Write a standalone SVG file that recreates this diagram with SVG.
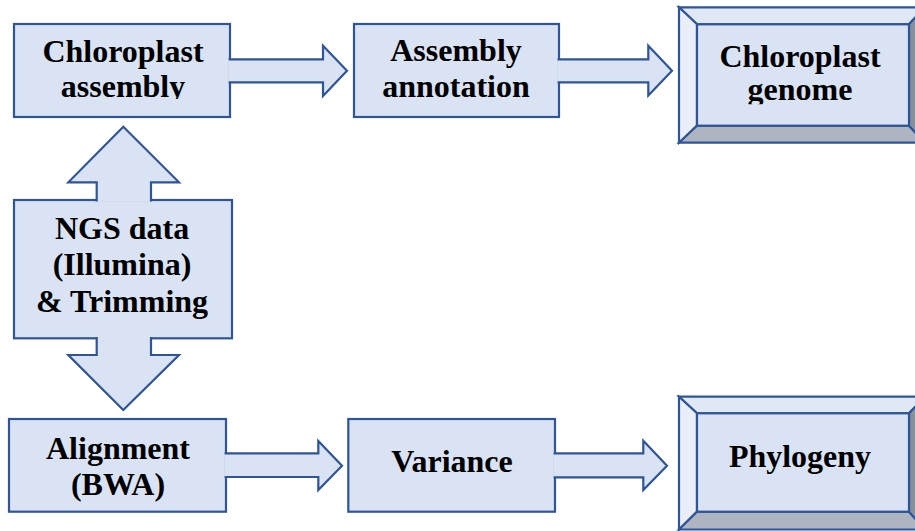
<svg xmlns="http://www.w3.org/2000/svg" width="915" height="531" viewBox="0 0 915 531">
  <style>
    .box { fill: #dae3f3; stroke: #2f5597; stroke-width: 2.2; stroke-linejoin: miter; }
    .arrow { fill: #dae3f3; stroke: #2f5597; stroke-width: 2.2; stroke-linejoin: miter; stroke-miterlimit: 10; }
    .bt { fill: #e0e7f5; stroke: #2f5597; stroke-width: 2.2; stroke-linejoin: miter; }
    .bl { fill: #e9eef9; stroke: #2f5597; stroke-width: 2.2; stroke-linejoin: miter; }
    .bb { fill: #aeb4c0; stroke: #2f5597; stroke-width: 2.2; stroke-linejoin: miter; }
    .br { fill: #8a909a; stroke: #2f5597; stroke-width: 2.2; stroke-linejoin: miter; }
    .lbl { font-family: "Liberation Serif", "Times New Roman", serif; font-weight: 700; font-size: 32px; fill: #000000; text-anchor: middle; }
  </style>
  <defs>
    <clipPath id="clipA"><rect x="0" y="0" width="300" height="99"/></clipPath>
    <clipPath id="clipC"><rect x="690" y="0" width="225" height="104.3"/></clipPath>
  </defs>

  <rect x="0" y="0" width="915" height="531" fill="#ffffff"/>

  <g id="node-chloroplast-assembly">
    <rect class="box" x="14" y="24" width="216" height="93"/>
    <text class="lbl" x="123" y="62">Chloroplast</text>
    <text class="lbl" x="123" y="97" clip-path="url(#clipA)">assembly</text>
  </g>

  <g id="node-assembly-annotation">
    <rect class="box" x="354" y="24" width="205" height="93"/>
    <text class="lbl" x="456" y="61">Assembly</text>
    <text class="lbl" x="456" y="96.5">annotation</text>
  </g>

  <g id="node-chloroplast-genome">
    <polygon class="bt" points="679,7.3 925,7.3 909,24.3 697,24.3"/>
    <polygon class="bl" points="679,7.3 697,24.3 697,125.7 679,142.7"/>
    <polygon class="bb" points="679,142.7 697,125.7 909,125.7 925,142.7"/>
    <polygon class="br" points="925,7.3 925,142.7 909,125.7 909,24.3"/>
    <rect class="box" x="697" y="24.3" width="212" height="101.4"/>
    <text class="lbl" x="800" y="66.7">Chloroplast</text>
    <text class="lbl" x="800" y="100" clip-path="url(#clipC)">genome</text>
  </g>

  <g id="node-ngs-data">
    <rect class="box" x="14" y="200" width="218" height="138.3"/>
    <text class="lbl" x="122" y="239">NGS data</text>
    <text class="lbl" x="122" y="275">(Illumina)</text>
    <text class="lbl" x="122" y="311.7">&amp; Trimming</text>
  </g>

  <g id="node-alignment">
    <rect class="box" x="9" y="419" width="217" height="92.7"/>
    <text class="lbl" x="118" y="459">Alignment</text>
    <text class="lbl" x="118" y="495">(BWA)</text>
  </g>

  <g id="node-variance">
    <rect class="box" x="348.3" y="419" width="206.7" height="92.7"/>
    <text class="lbl" x="452" y="471.7">Variance</text>
  </g>

  <g id="node-phylogeny">
    <polygon class="bt" points="679,396.7 925,396.7 909,413.3 697,413.3"/>
    <polygon class="bl" points="679,396.7 697,413.3 697,511.7 679,529.5"/>
    <polygon class="bb" points="679,529.5 697,511.7 909,511.7 925,529.5"/>
    <polygon class="br" points="925,396.7 925,529.5 909,511.7 909,413.3"/>
    <rect class="box" x="697" y="413.3" width="212" height="98.4"/>
    <text class="lbl" x="800" y="466.7">Phylogeny</text>
  </g>

  <g id="connectors">
    <path class="arrow" d="M 228.6 59.3 H 323 V 45.7 L 347 70.7 L 323 96 V 82.3 H 228.6"/>
    <path class="arrow" d="M 557.6 59.3 H 648.3 V 45.7 L 672 70.7 L 648.3 95.5 V 82.3 H 557.6"/>
    <path class="arrow" d="M 96.7 201.4 V 182.3 H 68.3 L 123.3 126.7 L 179 182.3 H 151 V 201.4"/>
    <path class="arrow" d="M 96.7 336.9 V 355 H 68.3 L 123.3 410 L 179 355 H 151 V 336.9"/>
    <path class="arrow" d="M 224.6 453.3 H 318.3 V 441 L 342 465.7 L 318.3 490 V 477 H 224.6"/>
    <path class="arrow" d="M 553.6 453.3 H 643.3 V 440.7 L 667 465.7 L 643.3 490 V 477.3 H 553.6"/>
  </g>
</svg>
